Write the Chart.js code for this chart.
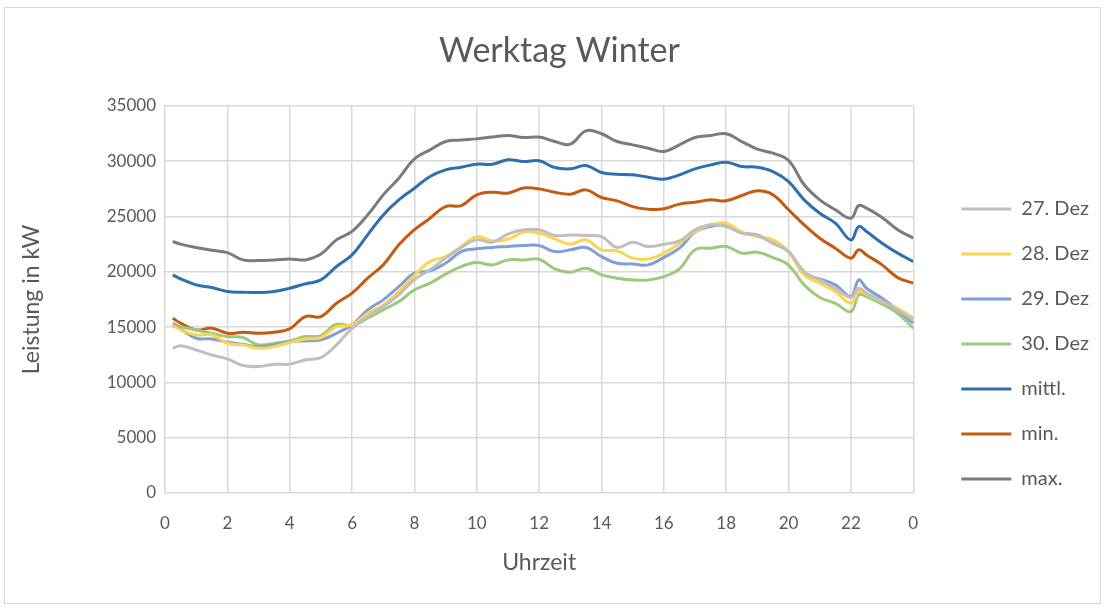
<!DOCTYPE html>
<html lang="de">
<head>
<meta charset="UTF-8" />
<title>Werktag Winter</title>
<style>
  html, body { margin: 0; padding: 0; background: #ffffff; }
  .wrap { position: relative; width: 1105px; height: 606px; }
  .frame {
    position: absolute; left: 4px; top: 7px; width: 1095px; height: 595px;
    border: 1px solid #d9d9d9; pointer-events: none;
  }
  canvas { position: absolute; left: 0; top: 0; }
</style>
</head>
<body>
<div class="wrap">
  <canvas id="chart" width="1105" height="606"></canvas>
  <div class="frame"></div>
</div>
<script src="https://cdn.jsdelivr.net/npm/chart.js@4.4.2/dist/chart.umd.min.js"></script>
<script>
// hour of day, half-hour steps (plus 0:15 and 22:15)
const hours = [
  0.25, 0.5, 1, 1.5, 2, 2.5, 3, 3.5, 4, 4.5, 5, 5.5, 6, 6.5, 7, 7.5, 8, 8.5, 9, 9.5,
  10, 10.5, 11, 11.5, 12, 12.5, 13, 13.5, 14, 14.5, 15, 15.5, 16, 16.5, 17, 17.5, 18, 18.5, 19, 19.5,
  20, 20.5, 21, 21.5, 22, 22.25, 22.5, 23, 23.5, 24
];

const dez27 = [
  13080, 13320, 12930, 12480, 12120, 11520, 11430, 11640, 11650, 12030, 12240, 13390, 14890, 15950, 16850, 17910, 19300, 20170, 21230, 22190,
  22880, 22670, 23400, 23790, 23790, 23270, 23330, 23270, 23180, 22200, 22670, 22280, 22480, 22790, 23790, 24240, 24090, 23490, 23270, 22580,
  21820, 20020, 19260, 18510, 17670, 18510, 18060, 17360, 16550, 15650
];
const dez28 = [
  15130, 14740, 14290, 14290, 13540, 13390, 13080, 13230, 13600, 13930, 14050, 15040, 15190, 16250, 17000, 18210, 19680, 20920, 21370, 22280,
  23180, 22790, 22940, 23580, 23490, 22970, 22490, 22880, 21980, 21890, 21230, 21160, 21680, 22580, 23630, 24240, 24390, 23580, 23180, 22880,
  21820, 19720, 18970, 18210, 17150, 18210, 17970, 17300, 16700, 15800
];
const dez29 = [
  15250, 14830, 13990, 13930, 13630, 13450, 13230, 13390, 13690, 13750, 13840, 14440, 15190, 16550, 17460, 18660, 19870, 20080, 20770, 21820,
  22070, 22190, 22280, 22370, 22370, 21820, 21980, 22190, 21370, 20770, 20710, 20620, 21300, 22130, 23580, 24090, 24240, 23490, 23330, 22580,
  21820, 19780, 19350, 18810, 17760, 19260, 18510, 17610, 16550, 15350
];
const dez30 = [
  15350, 15040, 14740, 14440, 14140, 14050, 13390, 13540, 13750, 14140, 14230, 15250, 15130, 15800, 16550, 17300, 18360, 18970, 19780, 20470,
  20830, 20620, 21070, 21070, 21130, 20260, 19960, 20320, 19720, 19420, 19260, 19260, 19560, 20260, 21980, 22130, 22280, 21680, 21770, 21280,
  20600, 18810, 17670, 17150, 16400, 17910, 17760, 17060, 16250, 14890
];
const mittl = [
  19720, 19350, 18810, 18570, 18210, 18150, 18120, 18210, 18510, 18900, 19260, 20470, 21520, 23330, 25140, 26500, 27550, 28610, 29210, 29450,
  29720, 29720, 30120, 29960, 30030, 29420, 29300, 29600, 28970, 28820, 28760, 28550, 28370, 28760, 29300, 29660, 29900, 29510, 29450, 29060,
  28150, 26500, 25290, 24390, 22880, 24090, 23630, 22580, 21680, 20920
];
const minVals = [
  15800, 15350, 14740, 14900, 14440, 14530, 14440, 14530, 14850, 15950, 15950, 17150, 18060, 19420, 20620, 22430, 23800, 24840, 25890, 25980,
  26950, 27190, 27100, 27560, 27490, 27190, 27010, 27400, 26710, 26410, 25890, 25650, 25690, 26110, 26290, 26500, 26410, 26890, 27310, 26950,
  25600, 24240, 23030, 22130, 21230, 21980, 21520, 20620, 19470, 18970
];
const maxVals = [
  22730, 22500, 22190, 21950, 21730, 21070, 21010, 21070, 21160, 21070, 21600, 22880, 23650, 25140, 26950, 28460, 30200, 31020, 31770, 31900,
  32010, 32170, 32320, 32140, 32170, 31770, 31530, 32740, 32470, 31770, 31470, 31170, 30870, 31470, 32140, 32320, 32470, 31770, 31080, 30720,
  30050, 27860, 26500, 25600, 24840, 25980, 25750, 24900, 23790, 23040
];

const seriesNames = ["27. Dez", "28. Dez", "29. Dez", "30. Dez", "mittl.", "min.", "max."];
const seriesValues = [dez27, dez28, dez29, dez30, mittl, minVals, maxVals];
const seriesColors = ["#bfbfbf", "#ffd34d", "#7f9fda", "#9dc97f", "#2e6fb0", "#c55a11", "#7b7b7b"];

const textColor = "#595959";
const fontFamily = "Lato, 'Open Sans', sans-serif";

const datasets = seriesNames.map((name, i) => ({
  label: name,
  data: seriesValues[i].map((v, j) => ({ x: hours[j], y: v })),
  borderColor: seriesColors[i],
  backgroundColor: seriesColors[i],
  borderWidth: 3,
  pointRadius: 0,
  tension: 0.4,
  fill: false,
}));

new Chart(document.getElementById("chart"), {
  type: "line",
  data: { datasets },
  options: {
    responsive: false,
    animation: false,
    layout: { padding: { left: 20, right: 6, top: 0, bottom: 23 } },
    plugins: {
      title: {
        display: true,
        text: "Werktag Winter",
        color: textColor,
        font: { family: fontFamily, size: 34, weight: "normal", lineHeight: 1.2 },
        padding: { top: 31, bottom: 34 },
      },
      legend: {
        position: "right",
        align: "start",
        fullSize: true,
        maxWidth: 170,
        // empty title only pushes the entries down
        title: { display: true, text: " ", font: { size: 10 }, padding: { top: 162, bottom: 0 } },
        labels: {
          color: textColor,
          font: { family: fontFamily, size: 20 },
          boxWidth: 50,
          boxHeight: 3,
          padding: 25,
          generateLabels(chart) {
            return Chart.defaults.plugins.legend.labels.generateLabels(chart).map((l) => ({
              ...l,
              fillStyle: l.strokeStyle,
              lineWidth: 0,
            }));
          },
        },
      },
      tooltip: { enabled: false },
    },
    scales: {
      x: {
        type: "linear",
        min: 0,
        max: 24,
        grid: { color: "#d9d9d9", lineWidth: 1.5, drawTicks: false },
        border: { display: false },
        ticks: {
          stepSize: 2,
          padding: 20,
          color: textColor,
          font: { family: fontFamily, size: 17 },
          callback: (v) => (v === 24 ? "0" : String(v)),
        },
        title: {
          display: true,
          text: "Uhrzeit",
          color: textColor,
          font: { family: fontFamily, size: 23, lineHeight: 1 },
          padding: { top: 0, bottom: 9 },
        },
        afterFit(scale) { scale.height = 90; },
      },
      y: {
        min: 0,
        max: 35000,
        grid: { color: "#d9d9d9", lineWidth: 1.5, drawTicks: false },
        border: { display: false },
        ticks: {
          stepSize: 5000,
          padding: 9,
          color: textColor,
          font: { family: fontFamily, size: 17 },
          callback: (v) => String(v),
        },
        title: {
          display: true,
          text: "Leistung in kW",
          color: textColor,
          font: { family: fontFamily, size: 23, lineHeight: 1 },
          padding: { top: 0, bottom: 0 },
        },
        afterFit(scale) { scale.width = 145; },
      },
      spacer: {
        type: "linear",
        position: "right",
        display: true,
        grid: { display: false },
        border: { display: false },
        ticks: { display: false },
        afterFit(scale) { scale.width = 23; },
      },
    },
  },
});
</script>
</body>
</html>
